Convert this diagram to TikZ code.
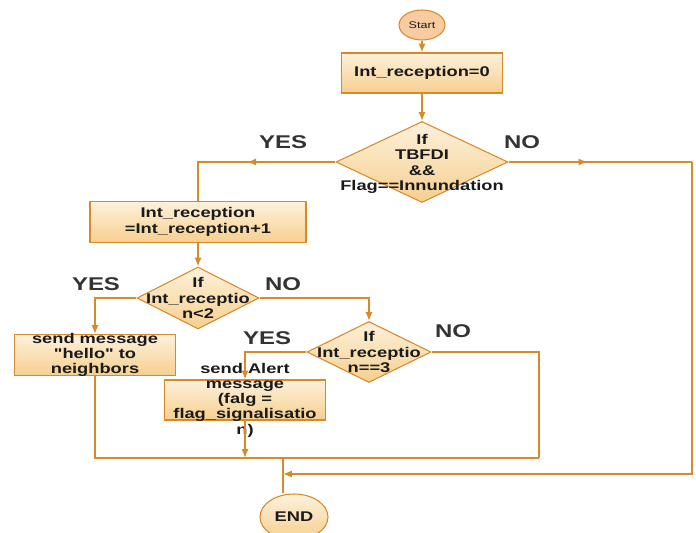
\documentclass[tikz,border=0pt]{standalone}
\usepackage{fontspec}
\setsansfont{Liberation Sans}[FakeStretch=1.3, Ligatures=TeXOff]
\usetikzlibrary{shapes.geometric,arrows.meta,decorations.markings}
\definecolor{flowline}{HTML}{D9892A}
\definecolor{boxtop}{HTML}{FDF1DC}
\definecolor{boxbot}{HTML}{F6CF8E}
\definecolor{startfill}{HTML}{F9CBA0}
\definecolor{txt}{HTML}{1A1A1A}
\definecolor{answertxt}{HTML}{333333}

\begin{document}
\begin{tikzpicture}[x=0.02cm, y=-0.02cm,
				proc/.style={rectangle, draw=flowline, top color=boxtop, bottom color=boxbot, line width=0.6pt},
				decision/.style={diamond, draw=flowline, top color=boxtop, bottom color=boxbot, line width=0.6pt, inner sep=0pt},
				term/.style={ellipse, draw=flowline, line width=0.6pt, inner sep=0pt},
				answer/.style={text=answertxt, font=\sffamily\bfseries\fontsize{10.5}{12}\selectfont},
				every label/.style={align=center, text=txt, font=\sffamily\bfseries\fontsize{8}{8.7}\selectfont},
				flow/.style={draw=flowline, line width=0.8pt},
				arr/.style={-{Latex[length=5pt,width=4pt]}},
				midarrow/.style={postaction={decorate}, decoration={markings, mark=at position #1 with {\arrow{Latex[length=5pt,width=4pt]}}}}
			]
			\useasboundingbox (0,0) rectangle (696,533);
			\node[term, fill=startfill, minimum width=46*0.02cm, minimum height=30*0.02cm, text=txt, font=\sffamily\fontsize{5.5}{6}\selectfont] (start) at (422,25) {Start};
			\node[proc, minimum width=161*0.02cm, minimum height=40*0.02cm, label=center:{Int\_reception=0}] (init) at (422,73) {};
			\node[decision, minimum width=172*0.02cm, minimum height=81*0.02cm, label={[yshift=-1pt]center:{If\\TBFDI\\\&\&\\Flag==Innundation}}] (chk1) at (422,162) {};
			\node[proc, minimum width=216*0.02cm, minimum height=41*0.02cm, label=center:{Int\_reception\\=Int\_reception+1}] (incr) at (198,222) {};
			\node[decision, minimum width=122*0.02cm, minimum height=62*0.02cm, label=center:{If\\Int\_receptio\\n<2}] (chk2) at (198,298) {};
			\node[proc, minimum width=161*0.02cm, minimum height=41*0.02cm, label=center:{send message\\"hello" to\\neighbors}] (hello) at (95,355) {};
			\node[decision, minimum width=124*0.02cm, minimum height=61*0.02cm, label=center:{If\\Int\_receptio\\n==3}] (chk3) at (369,352) {};
			\node[proc, minimum width=161*0.02cm, minimum height=40*0.02cm, label=center:{send Alert\\message\\(falg =\\flag\_signalisatio\\n)}] (alert) at (245,400) {};
			\node[term, top color=boxtop, bottom color=boxbot, minimum width=68*0.02cm, minimum height=46*0.02cm, text=txt, font=\sffamily\bfseries\fontsize{8}{9}\selectfont] (fin) at (294,517) {END};
			% yes / no answers
			\node[answer] (yes1) at (283,142) {YES};
			\node[answer] (no1) at (522,142) {NO};
			\node[answer] (yes2) at (96,284) {YES};
			\node[answer] (no2) at (283,284) {NO};
			\node[answer] (yes3) at (267,338) {YES};
			\node[answer] (no3) at (453,331) {NO};
			% corners
			\coordinate (rturn) at (692,162);
			\coordinate (rjoin) at (283,474);
			\coordinate (bjoin) at (539,458);
			\coordinate (ajoin) at (245,458);
			\coordinate (ejoin) at (283,458);
			\draw[flow, arr] (start) -- (init);
			\draw[flow, arr] (init) -- (chk1);
			\draw[flow, midarrow=0.5] (chk1.west) -| (incr.north);
			\draw[flow, midarrow=0.43] (chk1.east) -- (rturn);
			\draw[flow, arr] (rturn) |- (rjoin);
			\draw[flow, arr] (incr) -- (chk2);
			\draw[flow, arr] (chk2.west) -| (hello.north);
			\draw[flow, arr] (chk2.east) -| (chk3.north);
			\draw[flow, arr] (chk3.west) -| (alert.north);
			\draw[flow] (chk3.east) -| (bjoin);
			\draw[flow] (hello.south) |- (bjoin);
			\draw[flow, arr] (alert.south) -- (ajoin);
			\draw[flow] (ejoin) -- (ejoin |- fin.north);
			\end{tikzpicture}
\end{document}
